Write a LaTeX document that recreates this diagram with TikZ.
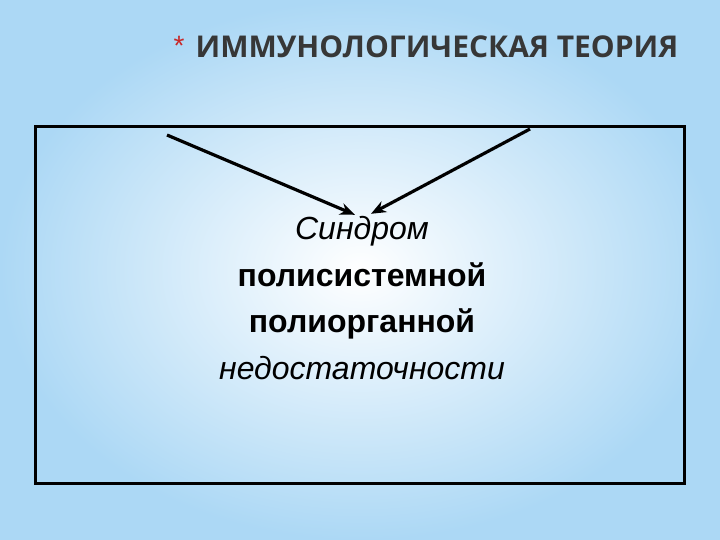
\documentclass[tikz,border=0pt]{standalone}
\usepackage{fontspec}
\setmainfont{Liberation Sans}
\newfontfamily\titlefont{Open Sans}
\usetikzlibrary{positioning,arrows.meta,calc}
\definecolor{skyblue}{RGB}{172,216,245}
\definecolor{titlegray}{RGB}{55,55,55}
\definecolor{starred}{RGB}{200,40,40}

\begin{document}
\begin{tikzpicture}[x=1pt,y=-1pt,
   txt/.style={inner sep=0pt,text height=22pt,text depth=8pt,font=\fontsize{32}{32}\selectfont},
   arr/.style={-{Stealth[length=15pt,width=12pt]},line width=3.2pt,shorten >=0pt},
   node distance=16pt]
	\shade[inner color=white,outer color=skyblue] (0,0) rectangle (720,540);
	\useasboundingbox (0,0) rectangle (720,540);
	\node[font=\titlefont\bfseries\fontsize{30}{30}\selectfont,text=titlegray] (title) at (437,47) {ИММУНОЛОГИЧЕСКАЯ ТЕОРИЯ};
	\node[text=starred,font=\fontsize{28}{28}\selectfont,left=4pt of title.north west,anchor=north east] (star) {*};
	\draw[line width=3pt] (35,127) rectangle (684,483);
	\node[txt,font=\itshape\fontsize{32}{32}\selectfont] (syn) at (362,233) {Синдром};
	\node[txt,font=\bfseries\fontsize{32}{32}\selectfont,below=of syn] (poly1) {полисистемной};
	\node[txt,font=\bfseries\fontsize{32}{32}\selectfont,below=of poly1] (poly2) {полиорганной};
	\node[txt,font=\itshape\fontsize{32}{32}\selectfont,below=of poly2] (nedo) {недостаточности};
	\coordinate (la) at (167,135);
	\coordinate (ra) at (530,129);
	\draw[arr] (la) -- ($(syn.north)+(-7,-3)$);
	\draw[arr] (ra) -- ($(syn.north)+(9,-4)$);
\end{tikzpicture}
\end{document}
